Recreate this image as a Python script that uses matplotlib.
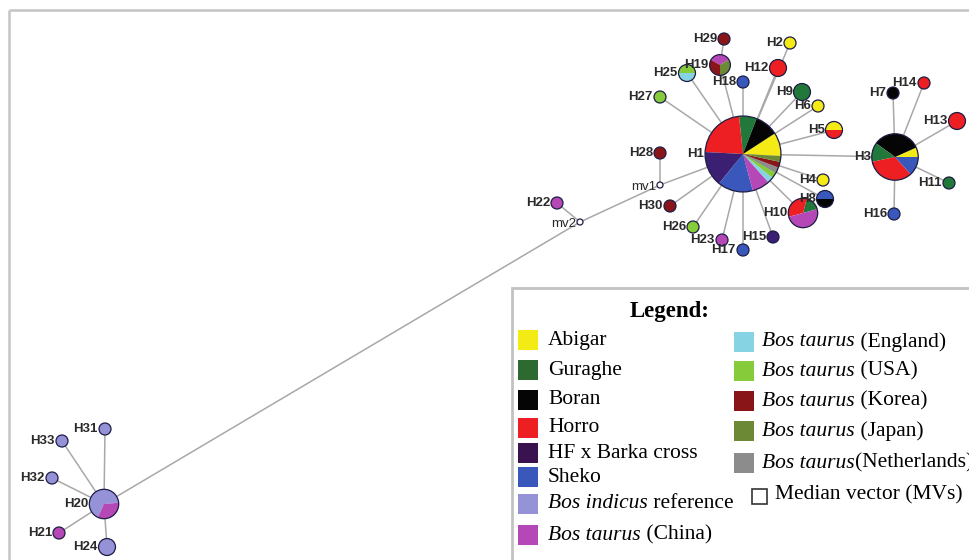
import numpy as np
import matplotlib
matplotlib.use("Agg")
import matplotlib.pyplot as plt
from matplotlib.patches import Wedge, Circle, Rectangle

# ---------------- data ----------------
groups = ["Abigar", "Guraghe", "Boran", "Horro", "HF x Barka cross", "Sheko",
          "Bos indicus reference", "Bos taurus (China)", "Bos taurus (England)",
          "Bos taurus (USA)", "Bos taurus (Korea)", "Bos taurus (Japan)",
          "Bos taurus(Netherlands)"]
group_short = ["Abigar", "Guraghe", "Boran", "Horro", "HF", "Sheko",
               "Indicus", "China", "England", "USA", "Korea", "Japan", "Netherlands"]

hap_names = ["H1", "H2", "H3", "H4", "H5", "H6", "H7", "H8", "H9", "H10",
             "H11", "H12", "H13", "H14", "H15", "H16", "H17", "H18", "H19", "H20",
             "H21", "H22", "H23", "H24", "H25", "H26", "H27", "H28", "H29", "H30",
             "H31", "H32", "H33"]
hap_groups = [
    ["Abigar", "Boran", "Guraghe", "Horro", "HF", "Sheko", "China",
     "England", "USA", "Netherlands", "Korea", "Japan"],          # H1
    ["Abigar"],                                                    # H2
    ["Abigar", "Boran", "Guraghe", "Horro", "Sheko"],              # H3
    ["Abigar"],                                                    # H4
    ["Abigar", "Horro"],                                           # H5
    ["Abigar"],                                                    # H6
    ["Boran"],                                                     # H7
    ["Sheko", "Boran"],                                            # H8
    ["Guraghe"],                                                   # H9
    ["Guraghe", "Horro", "China"],                                 # H10
    ["Guraghe"],                                                   # H11
    ["Horro"],                                                     # H12
    ["Horro"],                                                     # H13
    ["Horro"],                                                     # H14
    ["HF"],                                                        # H15
    ["Sheko"],                                                     # H16
    ["Sheko"],                                                     # H17
    ["Sheko"],                                                     # H18
    ["China", "Korea", "Japan"],                                   # H19
    ["Indicus", "China"],                                          # H20
    ["China"],                                                     # H21
    ["China"],                                                     # H22
    ["China"],                                                     # H23
    ["Indicus"],                                                   # H24
    ["USA", "England"],                                            # H25
    ["USA"],                                                       # H26
    ["USA"],                                                       # H27
    ["Korea"],                                                     # H28
    ["Korea"],                                                     # H29
    ["Korea"],                                                     # H30
    ["Indicus"],                                                   # H31
    ["Indicus"],                                                   # H32
    ["Indicus"],                                                   # H33
]
hap_counts = [
    [4, 4, 3, 9, 6, 6, 3, 1, 1, 1, 1, 1],
    [1], [1, 5, 2, 5, 2], [1], [1, 1], [1], [1], [1, 1], [2], [1, 2, 3],
    [1], [2], [2], [1], [1], [1], [1], [1], [1, 1, 1], [4, 2],
    [1], [1], [1], [2], [1, 1], [1], [1], [1], [1], [1],
    [1], [1], [1],
]
median_vectors = ["mv1", "mv2"]
edges = [("H1", h) for h in ["H2", "H4", "H5", "H6", "H8", "H9", "H10", "H12", "H15",
                               "H17", "H18", "H19", "H23", "H25", "H26", "H27", "H30",
                               "H3", "mv1"]]
edges += [("H19", "H29"), ("mv1", "H28"), ("mv1", "mv2"), ("mv2", "H22"), ("mv2", "H20")]
edges += [("H3", h) for h in ["H7", "H14", "H13", "H11", "H16"]]
edges += [("H20", h) for h in ["H31", "H33", "H32", "H21", "H24"]]

# ---------------- layout / style ----------------
W, H = 969, 560
pos = {  # pixel positions (x, y from top)
    "H1": (743, 154), "H2": (790, 43), "H3": (895, 157), "H4": (823, 180),
    "H5": (834, 130), "H6": (818, 106), "H7": (893, 93), "H8": (825, 199),
    "H9": (802, 92), "H10": (803, 213), "H11": (949, 183), "H12": (778, 68),
    "H13": (957, 121), "H14": (924, 83), "H15": (773, 237), "H16": (894, 214),
    "H17": (743, 250), "H18": (743, 82), "H19": (720, 65), "H20": (104, 504),
    "H21": (59, 533), "H22": (557, 203), "H23": (722, 240), "H24": (107, 547),
    "H25": (687, 73), "H26": (693, 227), "H27": (660, 97), "H28": (660, 153),
    "H29": (724, 39), "H30": (670, 206), "H31": (105, 429), "H32": (52, 478),
    "H33": (62, 441), "mv1": (660, 185), "mv2": (580, 222),
}
start_angle = {"H1": -3, "H3": 0, "H10": 15, "H20": 5, "H19": 30, "H8": 0, "H5": 0, "H25": 0}

palette = {
    "Abigar": "#f4ea16", "Guraghe": "#22783a", "Boran": "#050505", "Horro": "#ee1f22",
    "HF": "#3b1f73", "Sheko": "#3a58bb", "Indicus": "#9592d8", "China": "#b548b6",
    "England": "#86d3e4", "USA": "#86cc3a", "Korea": "#8a1518", "Japan": "#6c8a36",
    "Netherlands": "#8c8c8c",
}
legend_palette = dict(palette, Guraghe="#2c6a31", HF="#3a1250")

fig = plt.figure(figsize=(W / 100, H / 100), dpi=100)
ax = fig.add_axes([0, 0, 1, 1])
ax.set_xlim(0, W)
ax.set_ylim(0, H)
ax.axis("off")

def P(name):
    x, y = pos[name]
    return x, H - y

# frame lines
ax.plot([9, W], [H - 10, H - 10], color="#c4c4c4", lw=1.8, solid_capstyle="butt")
ax.plot([9, 9], [H - 10, 0], color="#c4c4c4", lw=1.8, solid_capstyle="butt")

# edges
for a, b in edges:
    xa, ya = P(a)
    xb, yb = P(b)
    ax.plot([xa, xb], [ya, yb], color="#a8a8a8", lw=1.1, zorder=1)

# nodes
outline = "#1d1d45"
label_font = dict(family="Liberation Sans", fontsize=9.5, fontweight="bold", color="#2a2a2a")
for name, grps, cnts in zip(hap_names, hap_groups, hap_counts):
    x, y = P(name)
    total = sum(cnts)
    r = 6.0 * np.sqrt(total)
    th = start_angle.get(name, 0)
    for g, c in zip(grps, cnts):
        span = 360.0 * c / total
        ax.add_patch(Wedge((x, y), r, th, th + span, facecolor=palette[g],
                           edgecolor="none", zorder=3))
        th += span
    ax.add_patch(Circle((x, y), r, facecolor="none", edgecolor=outline, lw=0.9, zorder=4))
    ax.text(x - r - 1.0, y, name, ha="right", va="center", zorder=5, **label_font)

for name in median_vectors:
    x, y = P(name)
    ax.add_patch(Circle((x, y), 3, facecolor="white", edgecolor=outline, lw=0.9, zorder=4))
    ax.text(x - 4.0, y - 2, name, ha="right", va="center", zorder=5,
            family="Liberation Sans", fontsize=9.5, color="#2a2a2a")

# legend box
ax.add_patch(Rectangle((512, -5), W - 512 + 5, H - 288 + 5, facecolor="white",
                       edgecolor="#c2c2c2", lw=2.0, zorder=6))
serif = "Liberation Serif"
FS = 15.5
ax.text(670, H - 312, "Legend:", ha="center", va="center", family=serif,
        fontsize=16.5, fontweight="bold", zorder=7)

left_rows = [("Abigar", 340), ("Guraghe", 370), ("Boran", 400), ("Horro", 428),
             ("HF", 453), ("Sheko", 477), ("Indicus", 504), ("China", 535)]
right_rows = [("England", 342), ("USA", 371), ("Korea", 401), ("Japan", 431),
              ("Netherlands", 463)]
label_of = dict(zip(group_short, groups))
fig.canvas.draw()

def legend_text(x, y, full):
    for prefix in ("Bos taurus", "Bos indicus"):
        if full.startswith(prefix):
            rest = full[len(prefix):]
            if prefix == "Bos indicus":
                rest = rest
            t = ax.text(x, H - y, prefix, ha="left", va="center", family=serif,
                        fontsize=FS, style="italic", zorder=7)
            bb = t.get_window_extent(renderer=fig.canvas.get_renderer())
            x2 = ax.transData.inverted().transform((bb.x1, 0))[0]
            ax.text(x2, H - y, rest, ha="left", va="center", family=serif,
                    fontsize=FS, zorder=7)
            return
    ax.text(x, H - y, full, ha="left", va="center", family=serif, fontsize=FS, zorder=7)

for g, y in left_rows:
    ax.add_patch(Rectangle((518, H - y - 10), 20, 20, facecolor=legend_palette[g],
                           edgecolor="none", zorder=7))
    legend_text(548, y, label_of[g])
for g, y in right_rows:
    ax.add_patch(Rectangle((734, H - y - 10), 20, 20, facecolor=legend_palette[g],
                           edgecolor="none", zorder=7))
    legend_text(762, y, label_of[g])
ax.add_patch(Rectangle((752, H - 496 - 7.5), 15, 15, facecolor="white",
                       edgecolor="#333333", lw=1.2, zorder=7))
ax.text(775, H - 495, "Median vector (MVs)", ha="left", va="center", family=serif,
        fontsize=FS, zorder=7)

fig.savefig("out.png", dpi=100)
